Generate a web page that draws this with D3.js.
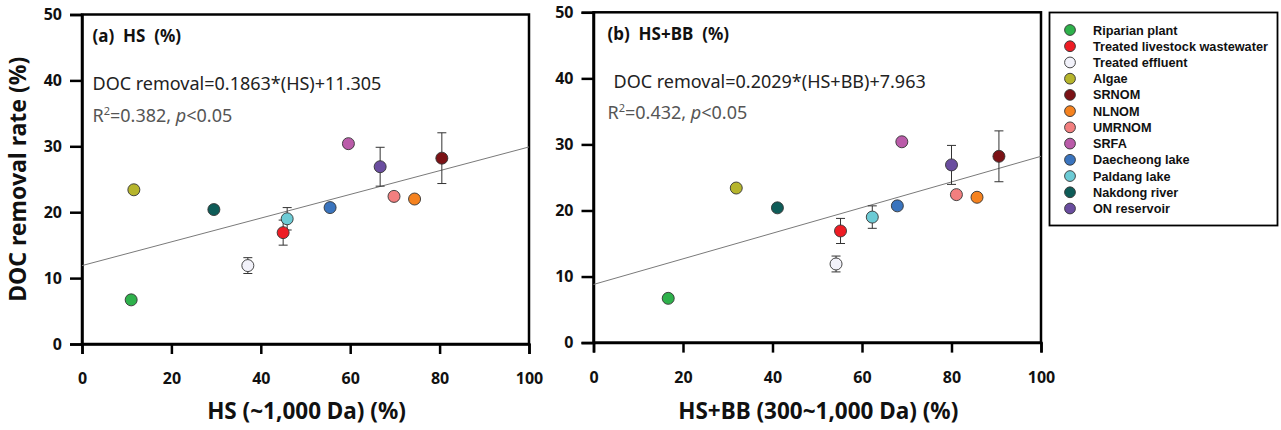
<!DOCTYPE html>
<html>
<head>
<meta charset="utf-8">
<script src="https://cdn.jsdelivr.net/npm/d3@7"></script>
<style>
  body { margin: 0; background: #fff; }
  svg { display: block; }
  .tick text { font-family: "Noto Sans", sans-serif; font-weight: bold; font-size: 16px; fill: #111; }
</style>
</head>
<body>
<svg id="chart" width="1281" height="430"></svg>
<script>
// sample categories (legend order) and marker colours
const sources = ['Riparian plant', 'Treated livestock wastewater', 'Treated effluent', 'Algae', 'SRNOM', 'NLNOM',
  'UMRNOM', 'SRFA', 'Daecheong lake', 'Paldang lake', 'Nakdong river', 'ON reservoir']
const colors = ['#2eb14b', '#ee1c24', '#f2f2fa', '#b6b52c', '#7b1216', '#f5821f',
  '#f27f7f', '#ba5ba9', '#3a74be', '#6ccbd5', '#0e5c58', '#6a4d9f']

// DOC removal rate (%) and its error, same for both panels
const removal = [6.7, 16.9, 11.9, 23.4, 28.2, 22.0, 22.4, 30.4, 20.7, 19.0, 20.4, 26.9]
const removalErr = [0, 1.9, 1.2, 0, 3.85, 0, 0, 0, 0, 1.7, 0, 2.95]

// x values of each panel
const hs = [11.0, 45.0, 37.1, 11.6, 80.5, 74.4, 69.8, 59.6, 55.5, 45.9, 29.5, 66.7]
const hsbb = [16.7, 55.2, 54.2, 31.9, 90.6, 85.7, 81.1, 68.9, 67.9, 62.3, 41.1, 80.0]

// fitted lines as drawn (x, y end points)
const fitA = [[0, 11.9], [100, 29.9]]
const fitB = [[0, 8.8], [100, 28.2]]

const xTicks = [0, 20, 40, 60, 80, 100]
const yTicks = [0, 10, 20, 30, 40, 50]

const svg = d3.select('#chart')

const panels = [
  {
    xs: hs, fit: fitA, xr: [82, 529], yr: [344, 14.5],
    label: '(a)  HS  (%)', eq: 'DOC removal=0.1863*(HS)+11.305', r2: '0.382', tx: 10.5, eqDx: 0,
    xTitle: 'HS (~1,000 Da) (%)', yTitle: true
  },
  {
    xs: hsbb, fit: fitB, xr: [593.5, 1041], yr: [342.6, 12.3],
    label: '(b)  HS+BB  (%)', eq: 'DOC removal=0.2029*(HS+BB)+7.963', r2: '0.432', tx: 14, eqDx: 6,
    xTitle: 'HS+BB (300~1,000 Da) (%)', yTitle: false
  }
]

panels.forEach(p => {
  const x = d3.scaleLinear().domain([0, 100]).range(p.xr)
  const y = d3.scaleLinear().domain([0, 50]).range(p.yr)
  const g = svg.append('g')

  // frame
  g.append('rect')
    .attr('x', p.xr[0]).attr('y', p.yr[1])
    .attr('width', p.xr[1] - p.xr[0]).attr('height', p.yr[0] - p.yr[1])
    .attr('fill', 'none').attr('stroke', '#000').attr('stroke-width', 2.5)

  const xAxis = g.append('g')
    .attr('transform', `translate(0,${p.yr[0]})`)
    .call(d3.axisBottom(x).tickValues(xTicks).tickSize(10).tickPadding(19))
  const yAxis = g.append('g')
    .attr('transform', `translate(${p.xr[0]},0)`)
    .call(d3.axisLeft(y).tickValues(yTicks).tickSize(12).tickPadding(8))
  ;[xAxis, yAxis].forEach(a => {
    a.select('.domain').attr('stroke-width', 2.5)
    a.selectAll('.tick line').attr('stroke-width', 2.5)
  })

  // regression line
  g.append('line')
    .attr('x1', x(p.fit[0][0])).attr('y1', y(p.fit[0][1]))
    .attr('x2', x(p.fit[1][0])).attr('y2', y(p.fit[1][1]))
    .attr('stroke', '#7a7a7a').attr('stroke-width', 1)

  const data = sources.map((s, i) => ({ s, x: p.xs[i], y: removal[i], e: removalErr[i], c: colors[i] }))

  // error bars
  const eb = g.selectAll('.err').data(data.filter(d => d.e > 0)).enter().append('g')
    .attr('stroke', '#333').attr('stroke-width', 1)
  eb.append('line')
    .attr('x1', d => x(d.x)).attr('x2', d => x(d.x))
    .attr('y1', d => y(d.y - d.e)).attr('y2', d => y(d.y + d.e))
  ;[-1, 1].forEach(k => {
    eb.append('line')
      .attr('x1', d => x(d.x) - 4.5).attr('x2', d => x(d.x) + 4.5)
      .attr('y1', d => y(d.y + k * d.e)).attr('y2', d => y(d.y + k * d.e))
  })

  g.selectAll('circle').data(data).enter().append('circle')
    .attr('cx', d => x(d.x)).attr('cy', d => y(d.y)).attr('r', 6)
    .attr('fill', d => d.c).attr('stroke', '#333').attr('stroke-width', 0.9)

  // annotations
  const tx = p.xr[0] + p.tx
  g.append('text').attr('x', tx).attr('y', p.yr[1] + 27.5)
    .attr('font-family', 'Noto Sans, sans-serif').attr('font-weight', 'bold').attr('font-size', 17)
    .attr('fill', '#111').attr('xml:space', 'preserve').style('white-space', 'pre')
    .text(p.label)
  g.append('text').attr('x', tx + p.eqDx).attr('y', p.yr[1] + 75.5)
    .attr('font-family', 'Noto Sans, sans-serif').attr('font-size', 18)
    .attr('fill', '#222').text(p.eq)
  const r2 = g.append('text').attr('x', tx).attr('y', p.yr[1] + 107)
    .attr('font-family', 'Noto Sans, sans-serif').attr('font-size', 18).attr('fill', '#555')
  r2.append('tspan').text('R')
  r2.append('tspan').attr('font-size', 11).attr('dy', -7).text('2')
  r2.append('tspan').attr('dy', 7).text('=' + p.r2 + ', ')
  r2.append('tspan').attr('font-style', 'italic').text('p')
  r2.append('tspan').text('<0.05')

  svg.append('text')
    .attr('x', (p.xr[0] + p.xr[1]) / 2 + 1).attr('y', 419)
    .attr('text-anchor', 'middle')
    .attr('font-family', 'Noto Sans, sans-serif').attr('font-weight', 'bold').attr('font-size', 22.5)
    .attr('fill', '#111').text(p.xTitle)

  if (p.yTitle) {
    svg.append('text')
      .attr('transform', `translate(26,${(p.yr[0] + p.yr[1]) / 2}) rotate(-90)`)
      .attr('text-anchor', 'middle')
      .attr('font-family', 'Noto Sans, sans-serif').attr('font-weight', 'bold').attr('font-size', 23)
      .attr('fill', '#111').text('DOC removal rate (%)')
  }
})

// legend
const lg = svg.append('g')
lg.append('rect').attr('x', 1049.5).attr('y', 12.5).attr('width', 228).attr('height', 213)
  .attr('fill', '#fff').attr('stroke', '#000').attr('stroke-width', 1.8)
const rowY = d3.scalePoint().domain(sources).range([30, 208.5])
const rows = lg.selectAll('.row').data(sources).enter().append('g')
  .attr('transform', s => `translate(0,${rowY(s)})`)
rows.append('circle').attr('cx', 1070).attr('cy', 0).attr('r', 5.4)
  .attr('fill', (s, i) => colors[i]).attr('stroke', '#333').attr('stroke-width', 0.9)
rows.append('text').attr('x', 1093).attr('y', 4.5)
  .attr('font-family', 'Liberation Sans, Arial, sans-serif').attr('font-weight', 'bold').attr('font-size', 12.7)
  .attr('fill', '#111').text(s => s)
</script>
</body>
</html>
